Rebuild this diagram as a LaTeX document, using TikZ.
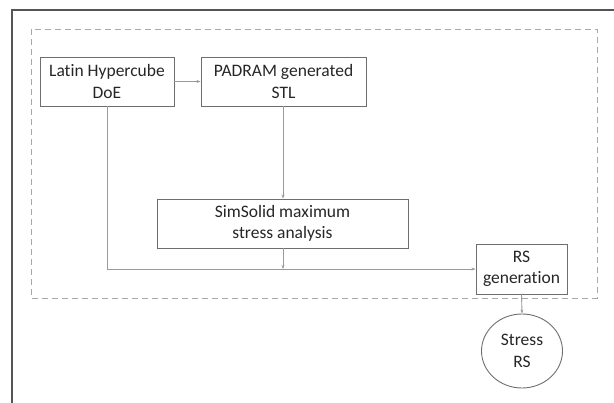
\documentclass[tikz,border=0pt]{standalone}
\usepackage{fontspec}
\setmainfont[Ligatures=NoCommon]{Carlito}
\usetikzlibrary{arrows.meta,shapes.geometric}
\definecolor{boxc}{HTML}{6E6E6E}
\definecolor{arrc}{HTML}{9A9A9A}
\definecolor{dashc}{HTML}{A8A8A8}
\definecolor{framec}{HTML}{555555}
\definecolor{txt}{HTML}{262626}
\tikzset{
  procbox/.style={draw=boxc, line width=0.9pt, rectangle, inner sep=0pt, align=center,
    font=\fontsize{17.5}{21.5}\selectfont, text=txt},
  flow/.style={draw=arrc, line width=0.9pt, -{Stealth[length=4pt,width=3pt]}},
}
\begin{document}
\begin{tikzpicture}[x=1pt,y=-1pt]
\useasboundingbox (0,0) rectangle (614,403);
% outer frame (partially visible)
\draw[framec, line width=1.6pt] (12,403) -- (12,10) -- (614,10);
% dashed region
\draw[dashc, line width=0.9pt, dash pattern=on 6pt off 4pt] (31,29) rectangle (597,298);
% nodes
\node[procbox, minimum width=134pt, minimum height=49pt] (lhs) at (107,81.5) {Latin Hypercube\\DoE};
\node[procbox, minimum width=165pt, minimum height=49pt] (pad) at (283.5,81.5) {PADRAM generated\\STL};
\node[procbox, minimum width=251pt, minimum height=49pt] (sim) at (282.5,223.5) {SimSolid maximum\\stress analysis};
\node[procbox, minimum width=91pt, minimum height=50pt] (rsg) at (521.5,269) {RS\\generation};
\node[draw=boxc, line width=0.9pt, ellipse, minimum width=81pt, minimum height=74pt, inner sep=0pt,
  align=center, font=\fontsize{17.5}{21.5}\selectfont, text=txt] (srs) at (522,351) {Stress\\RS};
\coordinate (j) at (283,269);
% connectors
\draw[flow] (lhs.east) -- (pad.west);
\draw[flow] (pad.south -| j) -- (sim.north -| j);
\draw[flow] (lhs.south) |- (rsg.west);
\draw[flow] (sim.south -| j) -- (j);
\draw[flow] (rsg.south) -- (srs.north);
\end{tikzpicture}
\end{document}
